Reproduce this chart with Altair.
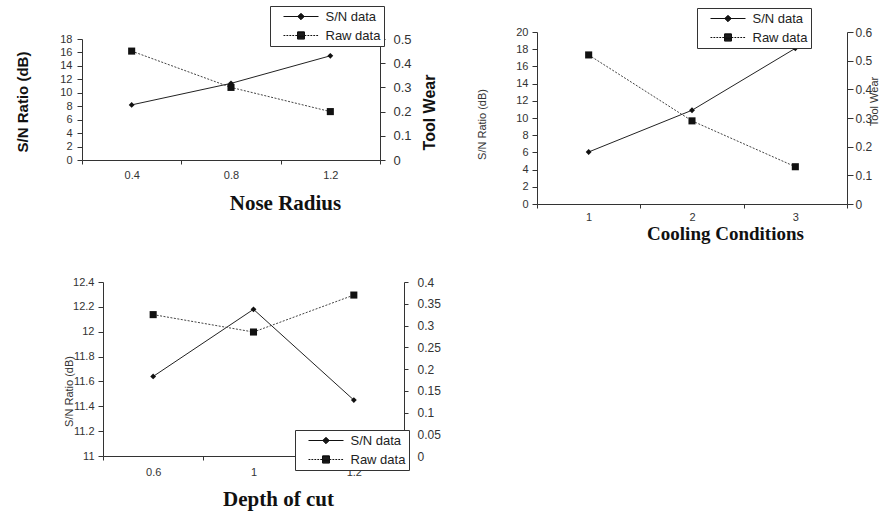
import altair as alt
import pandas as pd

# ---------------- data ----------------
series_names = ["S/N data", "Raw data"]

# Panel 1: Nose Radius
nose_cats = ["0.4", "0.8", "1.2"]
nose_sn = [8.2, 11.4, 15.5]
nose_raw = [0.45, 0.30, 0.20]
nose_sn_ticks = [0, 2, 4, 6, 8, 10, 12, 14, 16, 18]
nose_raw_ticks = [0, 0.1, 0.2, 0.3, 0.4, 0.5]

# Panel 2: Cooling Conditions
cool_cats = ["1", "2", "3"]
cool_sn = [6.05, 10.9, 18.1]
cool_raw = [0.52, 0.29, 0.13]
cool_sn_ticks = [0, 2, 4, 6, 8, 10, 12, 14, 16, 18, 20]
cool_raw_ticks = [0, 0.1, 0.2, 0.3, 0.4, 0.5, 0.6]

# Panel 3: Depth of cut
depth_cats = ["0.6", "1", "1.2"]
depth_sn = [11.64, 12.18, 11.45]
depth_raw = [0.325, 0.285, 0.37]
depth_sn_ticks = [11, 11.2, 11.4, 11.6, 11.8, 12, 12.2, 12.4]
depth_raw_ticks = [0, 0.05, 0.1, 0.15, 0.2, 0.25, 0.3, 0.35, 0.4]


# ---------------- legend symbols (line + marker, stroke only) ----------------
def seg(x0, x1, y=0.0):
    return f"M{x0:.2f},{y:.2f}L{x1:.2f},{y:.2f}"


def dashed(x0, x1, dash=0.26, gap=0.16):
    parts = []
    x = x0
    while x < x1 - 1e-9:
        e = min(x + dash, x1)
        parts.append(seg(x, e))
        x = e + gap
    return "".join(parts)


def solid_diamond(r=0.45, step=0.08):
    parts = []
    y = -r
    while y <= r + 1e-9:
        h = r - abs(y)
        parts.append(seg(-h, h, y))
        y += step
    parts.append(f"M0,{-r}L{r},0L0,{r}L{-r},0Z")
    return "".join(parts)


def solid_square(r=0.5, step=0.08):
    parts = []
    y = -r
    while y <= r + 1e-9:
        parts.append(seg(-r, r, y))
        y += step
    parts.append(f"M{-r},{-r}L{r},{-r}L{r},{r}L{-r},{r}Z")
    return "".join(parts)


SN_SYMBOL = seg(-2.5, 2.5) + solid_diamond()
RAW_SYMBOL = dashed(-2.5, -0.5) + dashed(0.5, 2.5) + solid_square()

LABEL_FONT = "Liberation Sans"
SERIF = "Liberation Serif"
AX = dict(domainColor="#333", tickColor="#333", labelColor="#333", labelFont=LABEL_FONT,
          grid=False, domainWidth=1, tickWidth=1)

LEGEND_COMMON = dict(orient="none", direction="vertical", padding=3, symbolSize=196,
                     symbolOffset=20.5, labelOffset=17, symbolStrokeColor="#111",
                     symbolStrokeWidth=1, symbolOpacity=1,
                     labelFont=LABEL_FONT, labelFontSize=13, labelColor="#222",
                     strokeColor="#333", fillColor="white", rowPadding=4, zindex=2)


def panel(cats, sn, raw, sn_ticks, raw_ticks, sn_domain, raw_domain, width, height,
          x_axis, left_axis, right_axis, legend, x_range=None, y_range=None):
    wide = pd.DataFrame({"cat": cats, "sn": sn, "raw": raw})
    long = pd.DataFrame({"cat": cats + cats, "sn": sn + raw,
                         "series": [series_names[0]] * len(cats) + [series_names[1]] * len(cats)})
    xs_kw = dict(type="band", paddingInner=0, paddingOuter=0)
    if x_range:
        xs_kw["range"] = x_range
    X = alt.X("cat:N", sort=cats, bandPosition=0.5, title=x_axis.pop("title"),
              scale=alt.Scale(**xs_kw),
              axis=alt.Axis(tickBand="extent", labelAngle=0, **AX, **x_axis))
    yl_kw = dict(domain=sn_domain, nice=False, zero=False)
    yr_kw = dict(domain=raw_domain, nice=False, zero=False)
    if y_range:
        yl_kw["range"] = y_range
        yr_kw["range"] = y_range
    YL = alt.Y("sn:Q", scale=alt.Scale(**yl_kw), title=left_axis.pop("title"),
               axis=alt.Axis(values=sn_ticks, format="~g", **AX, **left_axis))
    YR = alt.Y("raw:Q", scale=alt.Scale(**yr_kw), title=right_axis.pop("title", None),
               axis=alt.Axis(values=raw_ticks, format="~g", orient="right", **AX, **right_axis))

    sn_line = alt.Chart(wide).mark_line(color="#222", strokeWidth=1).encode(x=X, y=YL)
    sn_pts = alt.Chart(wide).mark_point(shape="diamond", filled=True, color="#111",
                                        size=34, opacity=1).encode(x=X, y=YL)
    leg = alt.Chart(long).mark_point(filled=False, color="#111", opacity=0).encode(
        x=X, y=YL,
        shape=alt.Shape("series:N", title=None,
                        scale=alt.Scale(domain=series_names, range=[SN_SYMBOL, RAW_SYMBOL]),
                        legend=alt.Legend(**LEGEND_COMMON, **legend)))
    raw_line = alt.Chart(wide).mark_line(color="#444", strokeWidth=1,
                                         strokeDash=[2, 1.5]).encode(x=X, y=YR)
    raw_pts = alt.Chart(wide).mark_square(filled=True, color="#111", size=50,
                                          opacity=1).encode(x=X, y=YR)
    left = alt.layer(sn_line, sn_pts, leg)
    right = alt.layer(raw_line, raw_pts)
    return alt.layer(left, right).resolve_scale(y="independent").properties(
        width=width, height=height)


def serif_title(size):
    return dict(titleFont=SERIF, titleFontSize=size, titleFontWeight="bold",
                titleColor="#111", titleAlign="center", titleBaseline="alphabetic")


p1 = panel(
    nose_cats, nose_sn, nose_raw, nose_sn_ticks, nose_raw_ticks, [0, 18], [0, 0.5],
    298, 128,
    x_axis=dict(title="Nose Radius", labelFontSize=11, tickSize=4, labelPadding=5,
                titleX=203, titleY=49, **serif_title(21)),
    left_axis=dict(title="S/N Ratio (dB)", labelFontSize=11, tickSize=5, labelPadding=5,
                   titleFont=LABEL_FONT, titleFontSize=15, titleFontWeight="bold",
                   titleColor="#111", titleAngle=270, titleAlign="center",
                   titleBaseline="bottom", titleX=-52, titleY=69.5),
    right_axis=dict(title="Tool Wear", labelFontSize=13, tickSize=5, labelPadding=8,
                    titleFont=LABEL_FONT, titleFontSize=16, titleFontWeight="bold",
                    titleColor="#111", titleAngle=270, titleAlign="center",
                    titleBaseline="top", titleX=41, titleY=80),
    legend=dict(legendX=188, legendY=-26),
    y_range=[128, 7],
)

p2 = panel(
    cool_cats, cool_sn, cool_raw, cool_sn_ticks, cool_raw_ticks, [0, 20], [0, 0.6],
    310, 172,
    x_axis=dict(title="Cooling Conditions", labelFontSize=11, tickSize=4, labelPadding=3,
                titleX=188, titleY=35, **serif_title(19)),
    left_axis=dict(title="S/N Ratio (dB)", labelFontSize=11, tickSize=5, labelPadding=4,
                   titleFont=LABEL_FONT, titleFontSize=11, titleFontWeight="normal",
                   titleColor="#333", titleAngle=270, titleAlign="center",
                   titleBaseline="bottom", titleX=-50, titleY=92),
    right_axis=dict(title="Tool Wear", labelFontSize=12, tickSize=6, labelPadding=2,
                    titleFont=LABEL_FONT, titleFontSize=11, titleFontWeight="normal",
                    titleColor="#333", titleAngle=270, titleAlign="center",
                    titleBaseline="top", titleX=21, titleY=69),
    legend=dict(legendX=160, legendY=-24),
)

p3 = panel(
    depth_cats, depth_sn, depth_raw, depth_sn_ticks, depth_raw_ticks, [11, 12.4], [0, 0.4],
    322, 174,
    x_axis=dict(title="Depth of cut", labelFontSize=11, tickSize=4, labelPadding=6,
                titleX=196, titleY=49, **serif_title(21)),
    left_axis=dict(title="S/N Ratio (dB)", labelFontSize=11, tickSize=5, labelPadding=4,
                   offset=-21,
                   titleFont=LABEL_FONT, titleFontSize=11, titleFontWeight="normal",
                   titleColor="#333", titleAngle=270, titleAlign="center",
                   titleBaseline="bottom", titleX=-29, titleY=109),
    right_axis=dict(labelFontSize=12, tickSize=4, labelPadding=9),
    legend=dict(legendX=213, legendY=148),
    x_range=[21, 322],
)

chart = alt.concat(
    p1, p2, p3, columns=2, bounds="flush", align="each",
    spacing={"row": 78, "column": 133},
).resolve_scale(shape="independent").resolve_legend(shape="independent").properties(
    padding={"left": 15, "top": 5, "right": 0, "bottom": 0}
).configure_view(stroke=None)

chart.save("out.html", embed_options={"renderer": "svg", "actions": False})
